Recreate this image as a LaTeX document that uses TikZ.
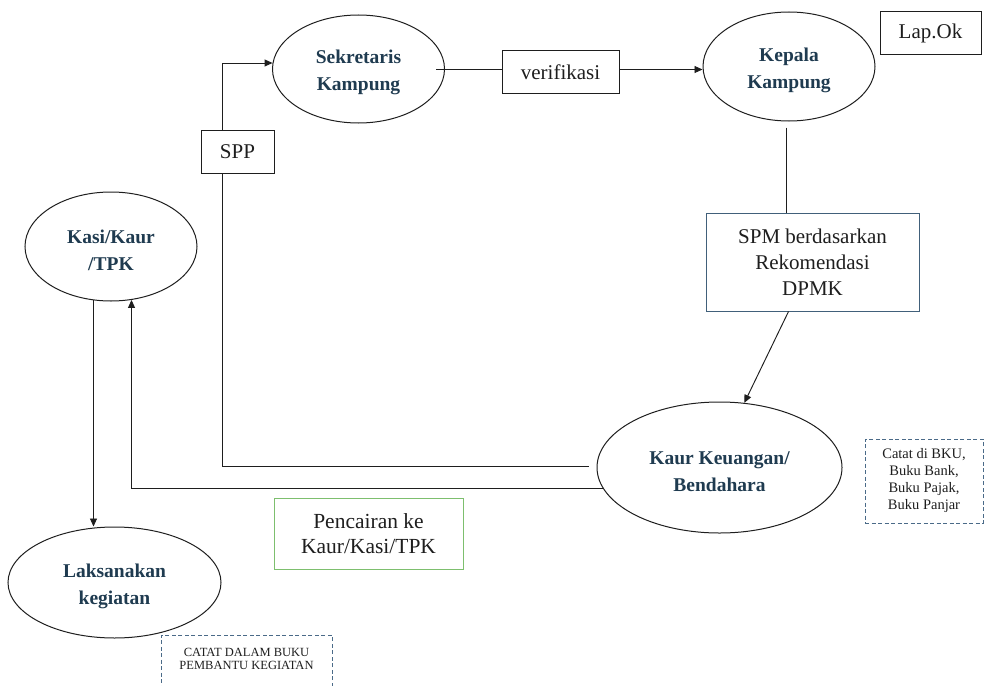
\documentclass[tikz,border=0pt]{standalone}
\usepackage{fontspec}
\setmainfont{Liberation Serif}
\usetikzlibrary{shapes.geometric,arrows.meta,calc}
\definecolor{lbltext}{HTML}{1F3B50}
\definecolor{spmblue}{HTML}{41607A}
\definecolor{dashblue}{HTML}{4A6A88}
\definecolor{boxgreen}{HTML}{7DBF6E}
\definecolor{ink}{HTML}{1E1E1E}
% extra room above the first line lowers the label inside its ellipse
\newcommand{\ovalpad}{\rule{0pt}{21pt}}
\begin{document}
\begin{tikzpicture}[x=1pt,y=-1pt,
  oval/.style={ellipse, draw=ink, line width=1pt, inner sep=0pt, align=center,
    text=lbltext, font=\fontsize{19.5}{27}\selectfont\bfseries},
  plainbox/.style={rectangle, draw=ink, line width=1pt, inner sep=0pt, align=center,
    text=ink, font=\fontsize{21}{25}\selectfont},
  note/.style={rectangle, draw=dashblue, dash pattern=on 4pt off 2.5pt, line width=0.9pt,
    inner sep=0pt, align=center, text=ink},
  wire/.style={draw=ink, line width=0.95pt},
  arr/.style={wire, -{Triangle[length=8pt,width=7pt]}},
]
\useasboundingbox (0,0) rectangle (984,685);

% process ellipses
\node[oval, minimum width=172pt, minimum height=108pt] (sek)  at (358.5,69)   {\ovalpad Sekretaris\\Kampung};
\node[oval, minimum width=172pt, minimum height=109pt] (kep)  at (789,66.5)   {\ovalpad Kepala\\Kampung};
\node[oval, minimum width=172pt, minimum height=109pt] (kasi) at (111,246.5)  {\ovalpad Kasi/Kaur\\/TPK};
\node[oval, minimum width=213pt, minimum height=111pt] (lak)  at (114.5,582.5) {\ovalpad Laksanakan\\kegiatan};
\node[oval, minimum width=245pt, minimum height=131pt] (kaur) at (719.5,467.5) {\ovalpad Kaur Keuangan/\\Bendahara};

% document boxes
\node[plainbox, minimum width=117pt, minimum height=42pt] (verif) at (560.5,72)   {verifikasi};
\node[plainbox, minimum width=73pt,  minimum height=43pt] (spp)   at (237.5,151.5) {SPP};
\node[plainbox, minimum width=101pt, minimum height=43pt] (lap)   at (930.5,33.5)  {Lap.Ok};
\node[plainbox, draw=spmblue, minimum width=213pt, minimum height=98pt,
      font=\fontsize{21}{26}\selectfont] (spm) at (812.5,262) {SPM berdasarkan\\Rekomendasi\\DPMK};
\node[plainbox, draw=boxgreen, minimum width=189pt, minimum height=71pt,
      font=\fontsize{21.5}{25}\selectfont] (cair) at (368.5,533.5) {Pencairan ke\\Kaur/Kasi/TPK};

% bookkeeping notes
\node[note, minimum width=118pt, minimum height=84pt, font=\fontsize{14.5}{17}\selectfont]
  (bku) at (924,481) {Catat di BKU,\\Buku Bank,\\Buku Pajak,\\Buku Panjar};
\node[note, minimum width=171pt, minimum height=56pt] (pembantu) at (246.5,663) {};
\node[font=\fontsize{12.5}{13}\selectfont, align=center, text=ink] (pembantutext)
  at (246.5,659) {CATAT DALAM BUKU\\PEMBANTU KEGIATAN};

% flow: Sekretaris -> verifikasi -> Kepala
\coordinate (vstart) at ($(sek.east)+(-9,0.5)$);
\draw[wire] (vstart) -- (vstart -| verif.west);
\draw[arr] (vstart -| verif.east) -- (vstart -| kep.west);

% Kepala -> SPM -> Kaur Keuangan
\coordinate (kdown) at ($(kep.south)+(-3,6)$);
\draw[wire] (kdown) -- (kdown |- spm.north);
\draw[arr] ($(spm.south)+(-24,0)$) -- (kaur.69);

% Kaur Keuangan -> SPP -> Sekretaris
\coordinate (sppx) at ($(spp.south)+(-15.5,0)$);
\draw[wire] ($(kaur.west)+(-8,-1.5)$) -| (sppx);
\draw[arr] ($(spp.north)+(-15.5,0)$) |- (sek.176);

% Kaur Keuangan -> Kasi/Kaur/TPK
\draw[arr] (kaur.190) -| (kasi.-69);

% Kasi/Kaur/TPK -> Laksanakan kegiatan
\draw[arr] (kasi.-108) -- (kasi.-108 |- lak.north);
\end{tikzpicture}
\end{document}
